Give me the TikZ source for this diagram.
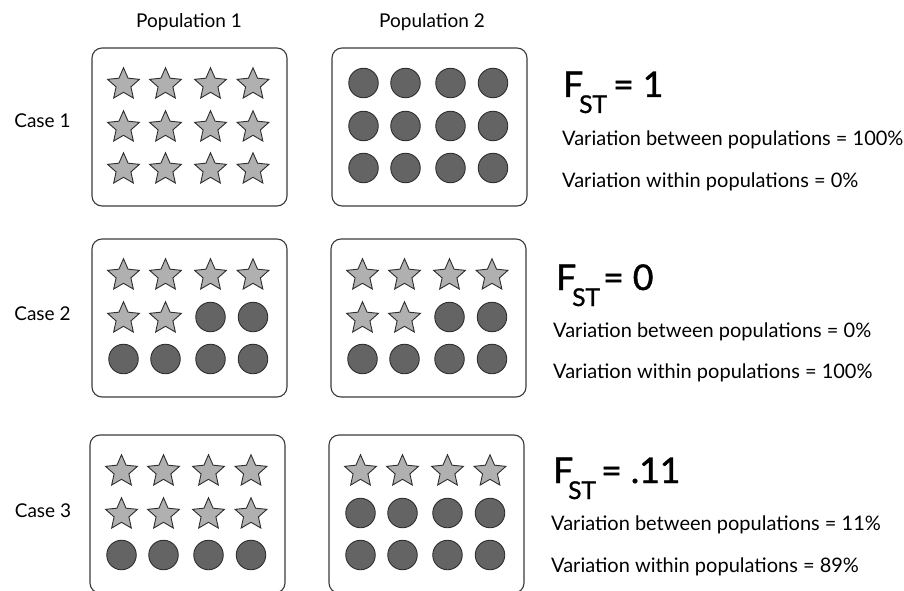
\documentclass[tikz,border=0pt]{standalone}
\usepackage{fontspec}
\setmainfont{Lato}
\newfontfamily\latoheavy{Lato}[FakeBold=1.2]
\usetikzlibrary{shapes.geometric}

\definecolor{starfill}{HTML}{B0B0B0}
\definecolor{dotfill}{HTML}{646464}
\definecolor{edge}{HTML}{2E2E2E}
\definecolor{boxedge}{HTML}{3A3A3A}

\tikzset{
  popbox/.style={draw=boxedge, line width=1.1pt, rounded corners=10pt,
    minimum width=195pt, minimum height=158pt, inner sep=0pt},
  staritem/.style={star, star points=5, star point ratio=2.15,
    minimum size=33.5pt, inner sep=0pt, draw=edge, line width=0.9pt, fill=starfill},
  dotitem/.style={circle, minimum size=29.5pt, inner sep=0pt,
    draw=edge, line width=0.9pt, fill=dotfill},
  label/.style={font=\fontsize{19}{22}\selectfont, inner sep=0pt, anchor=base},
  fbig/.style={font=\latoheavy\fontsize{35.5}{40}\selectfont, inner sep=0pt, anchor=base west},
  fsub/.style={font=\latoheavy\fontsize{24.5}{28}\selectfont, inner sep=0pt, anchor=base west},
  varline/.style={font=\fontsize{20}{24}\selectfont, inner sep=0pt, anchor=base west},
}

% column and row offsets of the 4x3 grid inside a box
\def\colx{{31.5,73.5,118.5,161}}
\def\rowy{{35,78,120}}

% #1 name, #2 left, #3 top, #4 twelve items (s = star, c = circle)
\newcommand{\popgrid}[4]{%
  \node[popbox] (#1) at (#2+97.5,#3+79) {};
  \foreach \k [count=\i from 0] in {#4} {
    \pgfmathtruncatemacro\col{mod(\i,4)}
    \pgfmathtruncatemacro\row{div(\i,4)}
    \pgfmathsetmacro\xx{#2+\colx[\col]}
    \pgfmathsetmacro\yy{#3+\rowy[\row]}
    \if\k s
      \node[staritem] (#1-\i) at (\xx,\yy+1.5) {};
    \else
      \node[dotitem] (#1-\i) at (\xx,\yy) {};
    \fi
  }%
}

\begin{document}
\begin{tikzpicture}[x=1pt, y=-1pt]
  \useasboundingbox (0,0) rectangle (904,591);

  % column headings
  \node[label] (pop1) at (189,28) {Population 1};
  \node[label] (pop2) at (432,28) {Population 2};

  % row headings
  \node[label] (case1) at (42.5,128) {Case 1};
  \node[label] (case2) at (42.5,320) {Case 2};
  \node[label] (case3) at (43,517) {Case 3};

  % Case 1
  \popgrid{c1a}{92}{48}{s,s,s,s,s,s,s,s,s,s,s,s}
  \popgrid{c1b}{332}{48}{c,c,c,c,c,c,c,c,c,c,c,c}
  % Case 2
  \popgrid{c2a}{92}{239}{s,s,s,s,s,s,c,c,c,c,c,c}
  \popgrid{c2b}{331}{239}{s,s,s,s,s,s,c,c,c,c,c,c}
  % Case 3
  \popgrid{c3a}{90}{435}{s,s,s,s,s,s,s,s,c,c,c,c}
  \popgrid{c3b}{329}{435}{s,s,s,s,c,c,c,c,c,c,c,c}

  % F_ST values and variation shares
  \node[fbig] (f1) at (563,97) {F};
  \node[fsub] (f1s) at (579,113) {ST};
  \node[fbig] (f1v) at (613,97) {= 1};
  \node[varline] (b1) at (562,145) {Variation between populations = 100\%};
  \node[varline] (w1) at (562,187) {Variation within populations = 0\%};

  \node[fbig] (f2) at (556,290) {F};
  \node[fsub] (f2s) at (572,306) {ST};
  \node[fbig] (f2v) at (603,290) {= 0};
  \node[varline] (b2) at (553,337) {Variation between populations = 0\%};
  \node[varline] (w2) at (553,378) {Variation within populations = 100\%};

  \node[fbig] (f3) at (553,483) {F};
  \node[fsub] (f3s) at (568,499) {ST};
  \node[fbig] (f3v) at (601,483) {= .11};
  \node[varline] (b3) at (551,530) {Variation between populations = 11\%};
  \node[varline] (w3) at (551,572) {Variation within populations = 89\%};
\end{tikzpicture}
\end{document}
